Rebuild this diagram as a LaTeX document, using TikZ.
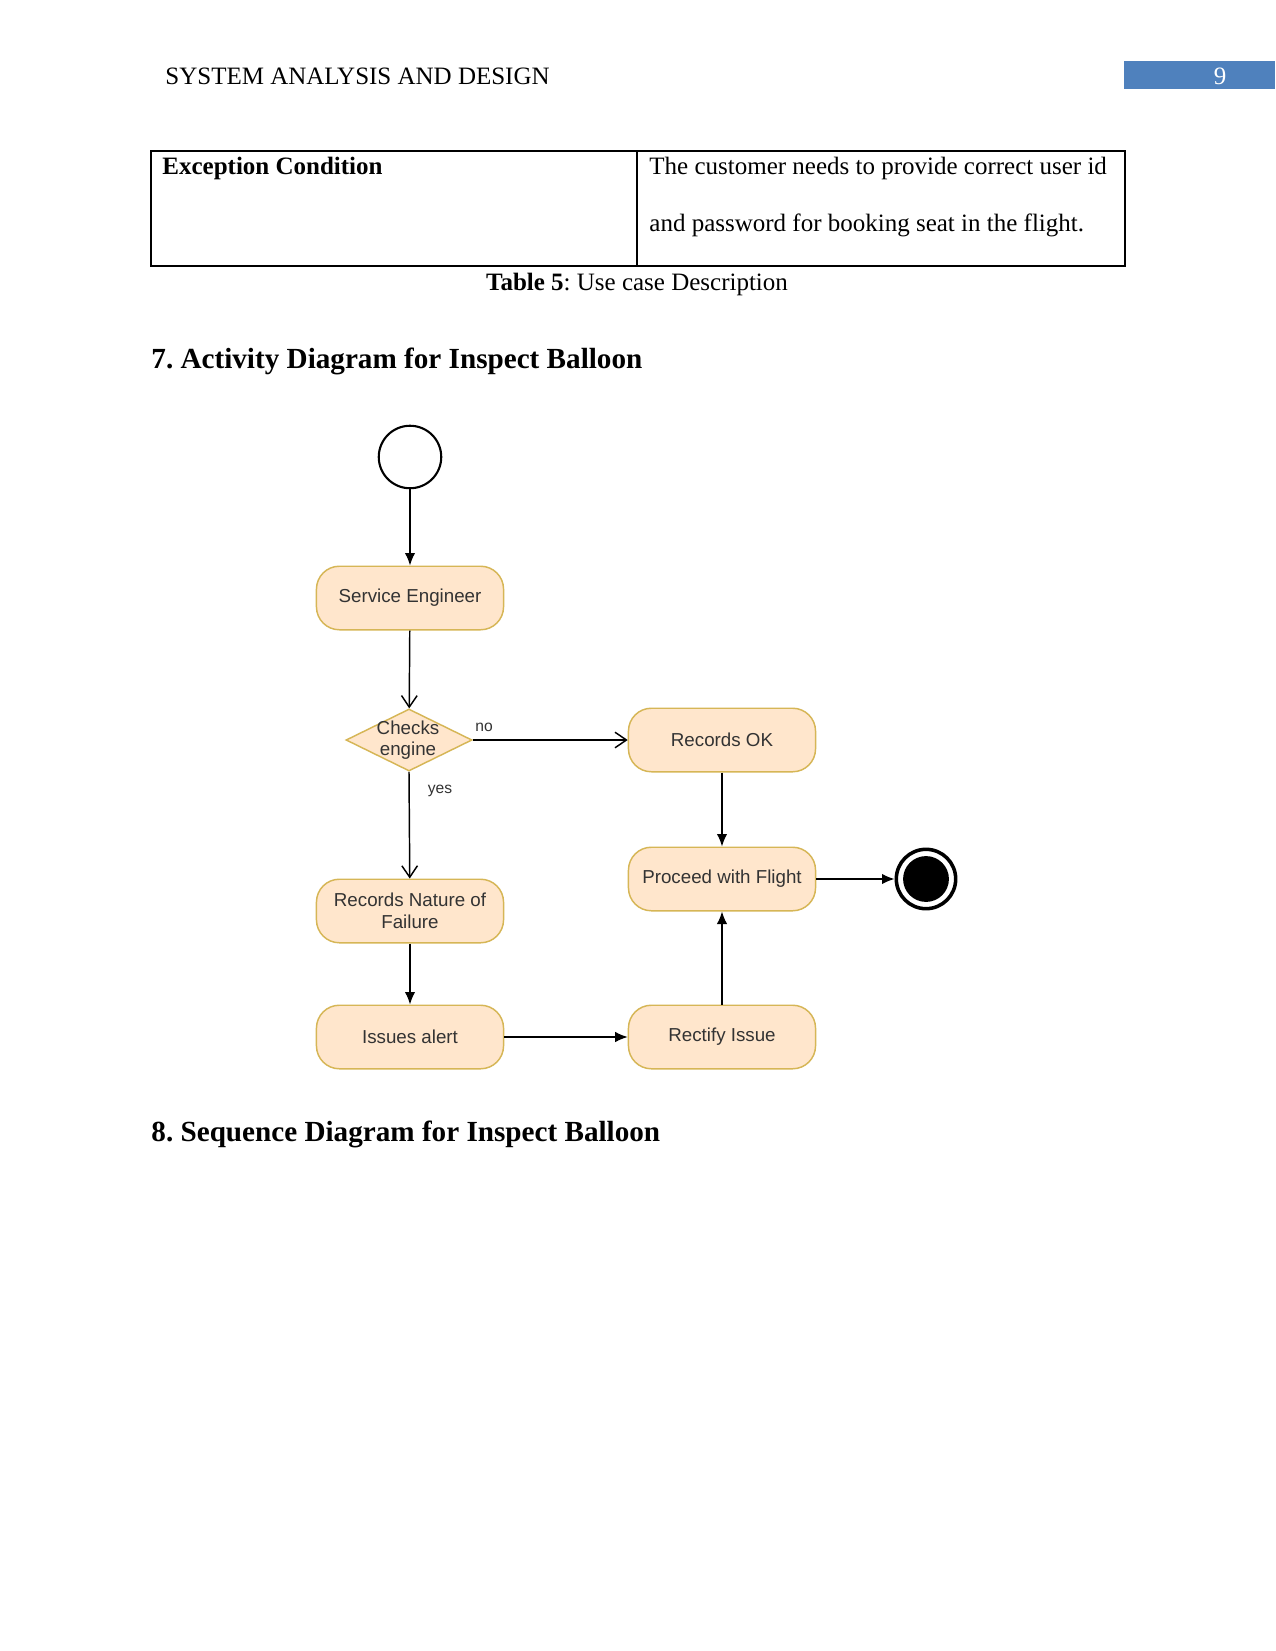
\documentclass[tikz,border=0pt]{standalone}
\usepackage{fontspec}
\setmainfont{Liberation Serif}
\newfontfamily\diagfont{Liberation Sans}
\usetikzlibrary{arrows.meta,shapes.geometric}
\definecolor{boxfill}{HTML}{FFE6CC}
\definecolor{boxdraw}{HTML}{D6B656}
\definecolor{hdrblue}{HTML}{4F81BD}
\definecolor{txtgray}{HTML}{333333}
\tikzset{
  act/.style={draw=boxdraw, fill=boxfill, rounded corners=11pt, line width=0.7pt,
    minimum width=89.8pt, minimum height=30.5pt, align=center,
    font=\diagfont\fontsize{9}{10.5}\selectfont, text=txtgray, inner sep=1pt},
  decision/.style={draw=boxdraw, fill=boxfill, diamond, line width=0.7pt,
    minimum width=60.5pt, minimum height=29.8pt, inner sep=0pt},
  dtext/.style={align=center, font=\diagfont\fontsize{9}{10.2}\selectfont, text=txtgray, inner sep=0pt},
  lbl/.style={font=\diagfont\fontsize{7.5}{9}\selectfont, text=txtgray, inner sep=0pt},
  filled/.style={-{Latex[length=6pt,width=5pt]}, line width=0.7pt},
  openarr/.style={-{Straight Barb[length=5.5pt,width=7.5pt]}, line width=0.7pt},
  body/.style={font=\fontsize{12}{14}\selectfont, inner sep=0pt, anchor=west},
  heading/.style={font=\bfseries\fontsize{14}{16}\selectfont, inner sep=0pt, anchor=west}
}
\begin{document}
\frenchspacing
\begin{tikzpicture}[x=0.48pt,y=-0.48pt]
\useasboundingbox[fill=white] (0,0) rectangle (1275,1651);
% header
\node[body] (hdr) at (165,76) {SYSTEM ANALYSIS AND DESIGN};
\fill[hdrblue] (1124,61) rectangle (1275,89);
\node[font=\fontsize{12}{14}\selectfont, text=white, inner sep=0pt] (pg) at (1220,76) {9};
% table
\draw[line width=0.5pt] (151,151) rectangle (1125,266);
\draw[line width=0.5pt] (637,151) -- (637,266);
\node[body, font=\bfseries\fontsize{12}{14}\selectfont] (exc) at (162,168) {Exception Condition};
\node[body] (t1) at (649,168) {The customer needs to provide correct user id};
\node[body] (t2) at (649,225) {and password for booking seat in the flight.};
\node[font=\fontsize{12}{14}\selectfont, inner sep=0pt] (cap) at (637,284) {\textbf{Table 5}: Use case Description};
% headings
\node[heading] (h7) at (151,361) {7. Activity Diagram for Inspect Balloon};
\node[heading] (h8) at (151,1134) {8. Sequence Diagram for Inspect Balloon};
% diagram
\node[circle, draw, line width=1pt, minimum size=30pt, inner sep=0pt] (start) at (410,457) {};
\node[act] (se) at (410,598) {Service Engineer};
\node[decision] (dec) at (409,740) {};
\node[dtext] (dectext) at (408,740) {Checks\\engine};
\node[act] (rok) at (722,740) {Records OK};
\node[act] (pwf) at (722,879) {Proceed with Flight};
\node[act] (rnf) at (410,911) {Records Nature of\\Failure};
\node[act] (ia) at (410,1037) {Issues alert};
\node[act] (ri) at (722,1037) {Rectify Issue};
\node[circle, draw, line width=1.7pt, minimum size=28.5pt, inner sep=0pt] (end) at (926,879) {};
\node[circle, fill=black, minimum size=22pt, inner sep=0pt] (endin) at (926,879) {};
% edges
\draw[filled] (start) -- (se);
\draw[openarr] (se) -- (dec);
\draw[openarr] (dec.east) -- (rok);
\draw[openarr] (dec.south) -- (rnf);
\draw[filled] (rok) -- (pwf);
\draw[filled] (rnf) -- (ia);
\draw[filled] (ia) -- (ri);
\draw[filled] (ri) -- (pwf);
\draw[filled] (pwf) -- (end);
\node[lbl] (no) at (484,727) {no};
\node[lbl] (yes) at (440,791) {yes};
\end{tikzpicture}
\end{document}
